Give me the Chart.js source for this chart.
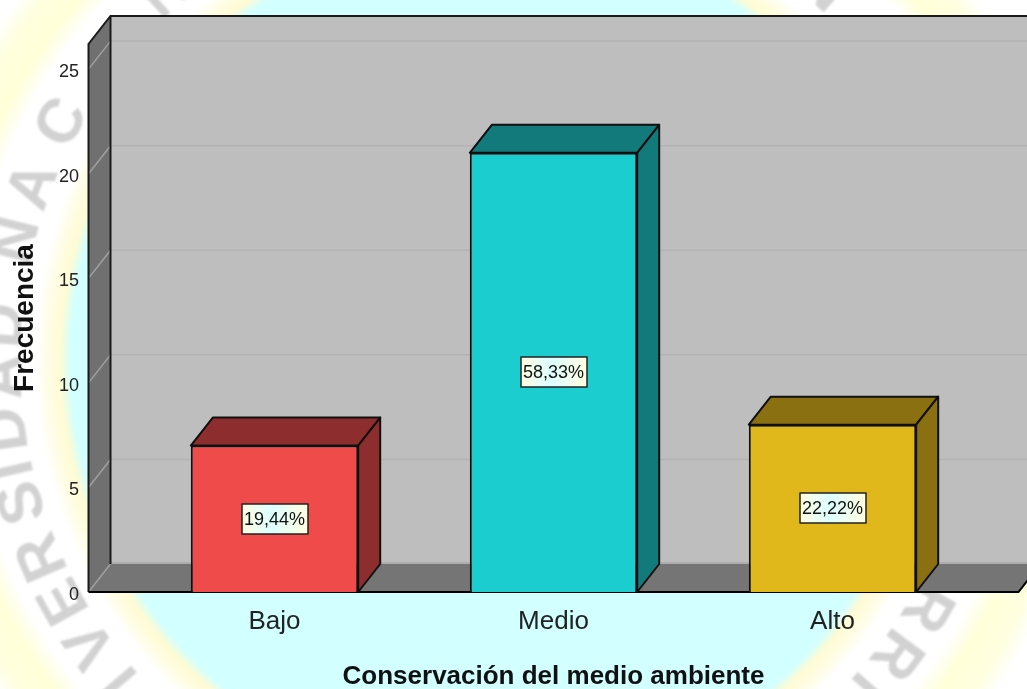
<!DOCTYPE html>
<html><head><meta charset="utf-8">
<style>html,body{margin:0;padding:0;background:#fff}canvas{display:block}</style>
<script src="https://cdn.jsdelivr.net/npm/chart.js@4"></script></head>
<body><canvas id="c" width="1027" height="689"></canvas>
<script>
const categories = ["Bajo","Medio","Alto"];
const frecuencia = [7,21,8];
const porcentajes = ["19,44%","58,33%","22,22%"];
const colorFrente = ["#ef4b4b","#1ccdcf","#e0b81b"];
const colorLado = ["#8e2d2d","#127a7b","#8a7010"];
const axisMax = 26.2;
const xTitle = "Conservación del medio ambiente";
const yTitle = "Frecuencia";
const watermarkLetters = ["I","V","E","R","S","I","D","A","D","N","A","C","N","N","R","R","I"];
const watermarkAngles = [139.6,145,150.9,156.6,163.3,167.2,171.9,178,184,194,200.6,208.6,228,-49,29.9,36.4,41.4];
const DX = 22, DY = -28, FONT = "Liberation Sans, Arial, sans-serif";

function drawBackground(ctx, w, h){
  const cx=497, cy=360;
  const g=ctx.createRadialGradient(cx,cy,0,cx,cy,640);
  const s=r=>r/640;
  g.addColorStop(0,"#d2ffff"); g.addColorStop(s(426),"#d2ffff");
  g.addColorStop(s(437),"#fffbd4"); g.addColorStop(s(450),"#fffde6");
  g.addColorStop(s(462),"#ffffff"); g.addColorStop(s(530),"#ffffff");
  g.addColorStop(s(552),"#ffffd8"); g.addColorStop(s(580),"#ffffe0");
  g.addColorStop(s(600),"#ffffff"); g.addColorStop(1,"#ffffff");
  ctx.fillStyle=g; ctx.fillRect(0,0,w,h);
  ctx.save();
  ctx.fillStyle="#d2d2d2"; ctx.font="bold 62px "+FONT;
  ctx.textAlign="center"; ctx.textBaseline="middle"; ctx.filter="blur(0.8px)";
  const R=494;
  watermarkLetters.forEach((ch,i)=>{
    const rad=watermarkAngles[i]*Math.PI/180;
    ctx.save();
    ctx.translate(cx+R*Math.cos(rad), cy+R*Math.sin(rad));
    ctx.rotate(rad+Math.PI/2);
    ctx.fillText(ch,0,0);
    ctx.restore();
  });
  ctx.restore();
}
function poly(ctx,pts,fill,stroke,lw){
  ctx.beginPath(); pts.forEach((p,i)=>i?ctx.lineTo(p[0],p[1]):ctx.moveTo(p[0],p[1])); ctx.closePath();
  if(fill){ctx.fillStyle=fill;ctx.fill();}
  if(stroke){ctx.strokeStyle=stroke;ctx.lineWidth=lw||2;ctx.lineJoin="round";ctx.stroke();}
}
const box3d={
  id:"box3d",
  beforeDraw(chart){
    const {ctx,chartArea:a,scales:{x,y},width,height}=chart;
    drawBackground(ctx,width,height);
    const band=x.getPixelForValue(1)-x.getPixelForValue(0);
    const L=a.left-band/6, Rr=a.right+band/6, B=y.getPixelForValue(0), T=a.top;
    ctx.save();
    poly(ctx,[[L+DX,T+DY],[Rr+DX,T+DY],[Rr+DX,B+DY],[L+DX,B+DY]],"#bebebe");
    ctx.fillStyle="#aeaeae"; ctx.fillRect(L+DX,B+DY-2,Rr-L,2);
    poly(ctx,[[L,T],[L+DX,T+DY],[L+DX,B+DY],[L,B]],"#707070");
    poly(ctx,[[L,B],[L+DX,B+DY],[Rr+DX,B+DY],[Rr,B]],"#757575");
    y.ticks.forEach(t=>{
      const p=y.getPixelForValue(t.value);
      if(t.value>0){
        ctx.lineWidth=1.5;
        ctx.strokeStyle="#b2b2b2"; ctx.beginPath(); ctx.moveTo(L+DX,p+DY); ctx.lineTo(Rr+DX,p+DY); ctx.stroke();
      }
      ctx.lineWidth=1.5;
      ctx.strokeStyle="#a0a0a0"; ctx.beginPath(); ctx.moveTo(L,p); ctx.lineTo(L+DX,p+DY); ctx.stroke();
    });
    ctx.strokeStyle="#1a1a1a"; ctx.lineWidth=2;
    ctx.beginPath();
    ctx.moveTo(L,B); ctx.lineTo(L,T); ctx.lineTo(L+DX,T+DY); ctx.lineTo(Rr+DX,T+DY);
    ctx.moveTo(L+DX,T+DY); ctx.lineTo(L+DX,B+DY);
    ctx.stroke();
    ctx.strokeStyle="#000";
    ctx.beginPath();
    ctx.moveTo(L,B); ctx.lineTo(Rr,B); ctx.lineTo(Rr+DX,B+DY);
    ctx.stroke();
    ctx.restore();
  },
  beforeDatasetsDraw(chart){
    const ctx=chart.ctx;
    chart.getDatasetMeta(0).data.forEach((b,i)=>{
      const l=b.x-b.width/2, r=b.x+b.width/2, t=b.y, bo=b.base;
      poly(ctx,[[l,t],[l+DX,t+DY],[r+DX,t+DY],[r,t]],colorLado[i],"#101010",2);
      poly(ctx,[[r,t],[r+DX,t+DY],[r+DX,bo+DY],[r,bo]],colorLado[i],"#101010",2);
    });
  },
  afterDatasetsDraw(chart){
    const {ctx,scales:{y}}=chart;
    ctx.save();
    chart.getDatasetMeta(0).data.forEach((b,i)=>{
      const cy=y.getPixelForValue(frecuencia[i]/2), W=66, H=30;
      const x0=Math.round(b.x-W/2), y0=Math.round(cy-H/2);
      const g=ctx.createLinearGradient(x0,0,x0+W,0);
      g.addColorStop(0,"#fffde0"); g.addColorStop(.45,"#dcffff"); g.addColorStop(1,"#fffde0");
      ctx.fillStyle=g; ctx.fillRect(x0,y0,W,H);
      ctx.strokeStyle="#222"; ctx.lineWidth=1.5; ctx.strokeRect(x0,y0,W,H);
      ctx.fillStyle="#111"; ctx.font="18px "+FONT; ctx.textAlign="center"; ctx.textBaseline="middle";
      ctx.fillText(porcentajes[i],b.x,cy+1);
    });
    ctx.restore();
  }
};
new Chart(document.getElementById("c"),{
  type:"bar",
  data:{labels:categories,datasets:[{data:frecuencia,backgroundColor:colorFrente,borderColor:"#101010",borderWidth:2,barPercentage:0.6,categoryPercentage:1}]},
  options:{
    responsive:false,animation:false,
    layout:{padding:{top:44,right:55,left:0,bottom:0}},
    plugins:{legend:{display:false},tooltip:{enabled:false}},
    scales:{
      x:{grid:{display:false,drawTicks:false},border:{display:false},
        afterFit(s){s.height=97;},
        ticks:{color:"#222",font:{family:FONT,size:26},padding:14,maxRotation:0},
        title:{display:true,text:xTitle,color:"#111",font:{family:FONT,size:26,weight:"bold"},padding:{top:0,bottom:-3}}},
      y:{min:0,max:axisMax,grid:{display:false,drawTicks:false},border:{display:false},
        afterFit(s){s.width=135;s.paddingTop=0;s.paddingBottom=0;},
        afterBuildTicks(s){s.ticks=[0,5,10,15,20,25].map(v=>({value:v}));},
        ticks:{color:"#222",font:{family:FONT,size:18},padding:56,labelOffset:3},
        title:{display:true,text:yTitle,color:"#111",font:{family:FONT,size:28,weight:"bold"},padding:{top:8,bottom:0}}}
    }
  },
  plugins:[box3d]
});
</script></body></html>
